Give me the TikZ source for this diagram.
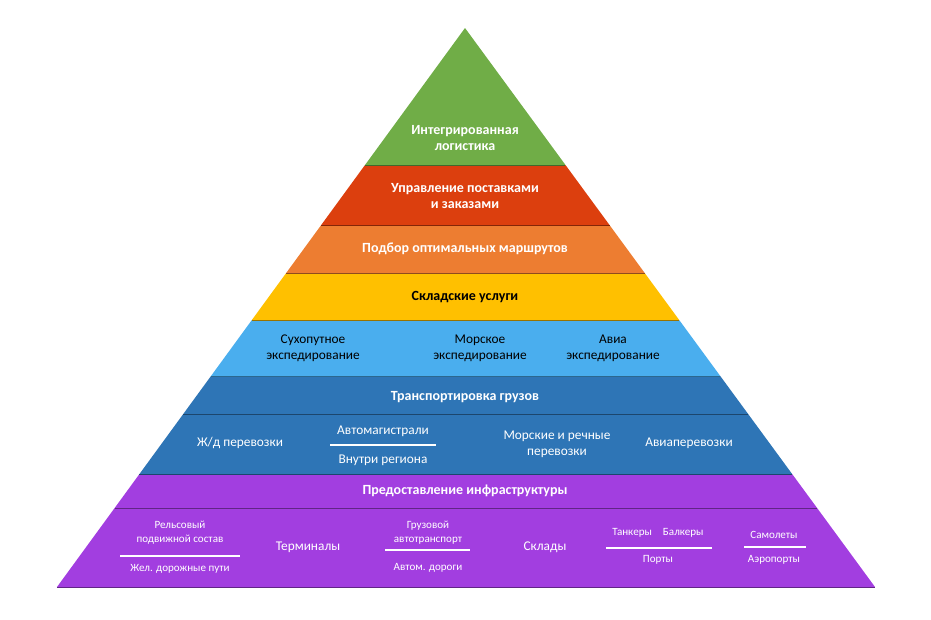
\documentclass[tikz,border=0pt]{standalone}
\usepackage{fontspec}
\setmainfont{Carlito}
\definecolor{lgreen}{HTML}{70AD47}
\definecolor{lred}{HTML}{DC3F0E}
\definecolor{lorange}{HTML}{ED7D31}
\definecolor{lyellow}{HTML}{FFC000}
\definecolor{lsky}{HTML}{4AAEEE}
\definecolor{lblue}{HTML}{2E75B6}
\definecolor{lpurple}{HTML}{A23EE0}
\tikzset{every picture/.style={line width=0.75pt}}
\tikzset{
  head/.style={text=white,font=\bfseries\fontsize{10.5}{12.5}\selectfont,align=center,inner sep=0.75pt},
  item/.style={text=white,font=\fontsize{10}{12}\selectfont,align=center,inner sep=0.75pt},
  small/.style={text=white,font=\fontsize{8.3}{10.5}\selectfont,align=center,inner sep=0.75pt},
  sep/.style={white,line width=0.8pt}
}
\newcommand{\xl}[1]{465-(#1-28)*0.7299}
\newcommand{\xr}[1]{465+(#1-28)*0.7335}
\begin{document}
\begin{tikzpicture}[x=0.75pt,y=0.75pt,yscale=-1,xscale=1]
\useasboundingbox (0,0) rectangle (931,619);
%bands
\foreach \ya/\yb/\col in {28/165/lgreen,165/225/lred,225/273/lorange,273/320/lyellow,320/376/lsky,376/474/lblue,474/587/lpurple}{
  \fill[\col] ({\xl{\ya}},\ya) -- ({\xr{\ya}},\ya) -- ({\xr{\yb}},\yb) -- ({\xl{\yb}},\yb) -- cycle;
}
\foreach \y/\col in {165/lgreen,225/lred,273/lorange,320/lyellow,376/lsky,474/lblue}{
  \draw[\col!60!black] ({\xl{\y}},\y) -- ({\xr{\y}},\y);
}
\draw[lblue!60!black] ({\xl{414}},414) -- ({\xr{414}},414);
\draw[lpurple!60!black] ({\xl{508}},508) -- ({\xr{508}},508);
\draw[lpurple!60!black] ({\xl{587}},587) -- ({\xr{587}},587);

%top
\node[head] (integ) at (465,138) {Интегрированная\\логистика};
\node[head] (upr) at (465,196) {Управление поставками\\и заказами};
\node[head] (podb) at (465,249) {Подбор оптимальных маршрутов};
\node[head,text=black] (sklu) at (465,297) {Складские услуги};
%forwarding
\node[item,text=black] (land) at (313,348) {Сухопутное\\экспедирование};
\node[item,text=black] (sea) at (480,348) {Морское\\экспедирование};
\node[item,text=black] (air) at (613,348) {Авиа\\экспедирование};
%transport
\node[head] (trans) at (465,397) {Транспортировка грузов};
\node[item] (rail) at (240,443) {Ж/д перевозки};
\node[item] (auto) at (383,431) {Автомагистрали};
\node[item] (reg) at (383,460) {Внутри региона};
\draw[sep] (330,445) -- (436,445);
\node[item] (river) at (557,444) {Морские и речные\\перевозки};
\node[item] (avia) at (689,443) {Авиаперевозки};
%infrastructure
\node[head] (infra) at (465,491) {Предоставление инфраструктуры};
\node[small] (stock) at (180,533) {Рельсовый\\подвижной состав};
\draw[sep] (120,556) -- (240,556);
\node[small] (track) at (180,569) {Жел. дорожные пути};
\node[item] (term) at (308,547) {Терминалы};
\node[small] (truck) at (428,533) {Грузовой\\автотранспорт};
\draw[sep] (385,550) -- (470,550);
\node[small] (road) at (428,568) {Автом. дороги};
\node[item] (wh) at (545,547) {Склады};
\node[small] (ships) at (658,533) {Танкеры\quad Балкеры};
\draw[sep] (606,548) -- (712,548);
\node[small] (port) at (658,560) {Порты};
\node[small] (plane) at (774,535) {Самолеты};
\draw[sep] (744,547) -- (806,547);
\node[small] (aport) at (774,560) {Аэропорты};
\end{tikzpicture}
\end{document}
